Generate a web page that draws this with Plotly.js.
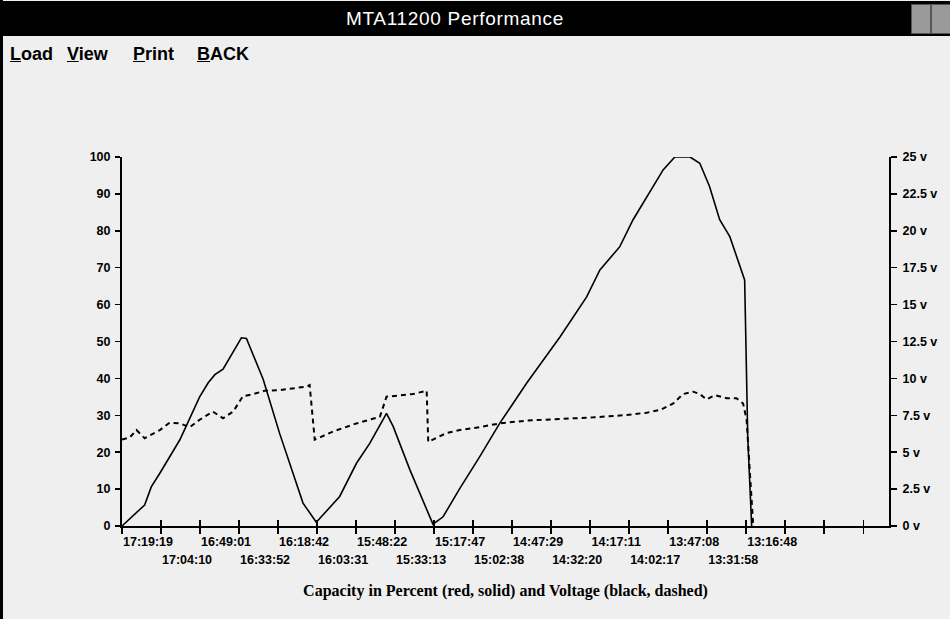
<!DOCTYPE html>
<html>
<head>
<meta charset="utf-8">
<script src="https://cdn.plot.ly/plotly-3.0.1.min.js"></script>
<style>
  html, body { margin:0; padding:0; width:950px; height:619px; overflow:hidden; background:#efefef; }
  #chart { position:absolute; left:0; top:0; width:950px; height:619px; }
  #titlebar { position:absolute; left:0; top:1px; width:950px; height:35px; background:#000; color:#fff;
    font-family:"Liberation Sans", Arial, sans-serif; font-size:19px; letter-spacing:0.7px; line-height:35px; text-align:center; }
  #titlebar span { position:relative; left:-20px; }
  .btn { position:absolute; top:4px; width:18px; height:28px; background:#9a9a9a; border:1px solid #555; }
  #menu { position:absolute; left:0; top:37px; height:34px; width:950px; font-family:"Liberation Sans", Arial, sans-serif;
    font-weight:bold; font-size:18px; line-height:34px; color:#000; }
  #menu span { position:absolute; }
  #menu u { text-decoration:underline; }
  #lborder { position:absolute; left:0; top:0; width:3px; height:619px; background:#000; }
</style>
</head>
<body>
<div id="chart"></div>
<div id="titlebar"><span>MTA11200 Performance</span></div>
<div class="btn" style="left:911px"></div>
<div class="btn" style="left:931px"></div>
<div id="menu">
  <span style="left:10px"><u>L</u>oad</span>
  <span style="left:67px"><u>V</u>iew</span>
  <span style="left:133px"><u>P</u>rint</span>
  <span style="left:197px"><u>B</u>ACK</span>
</div>
<div id="lborder"></div>
<script>
// ---- data (x in tick-interval units, 0 = 17:19:19) ----
const xTickLabels = ['17:19:19','17:04:10','16:49:01','16:33:52','16:18:42','16:03:31','15:48:22','15:33:13','15:17:47','15:02:38','14:47:29','14:32:20','14:17:11','14:02:17','13:47:08','13:31:58','13:16:48','','',''];
const capX = [0,0.58,0.75,0.97,1.48,1.99,2.21,2.38,2.59,3.06,3.19,3.62,4.04,4.38,4.64,4.98,5.58,6.01,6.35,6.78,6.95,7.38,7.97,8.23,8.66,9.17,9.68,10.37,11.23,11.91,12.25,12.76,13.10,13.87,14.17,14.56,14.81,15.06,15.32,15.58,15.83,15.96,16.04,16.14];
const capY = [0,5.7,10.6,14.3,23.3,35,38.8,41,42.5,51,50.8,39.7,25.1,14.3,6.2,1,8,17,22.4,30.5,27,15.2,0.5,2.5,10.2,18.8,27.8,38.7,51.3,62.1,69.4,75.7,83,96.5,100,100,98.3,92,83,78.4,70.3,66.7,24,0];
const voltX = [0,0.2,0.37,0.58,0.97,1.22,1.48,1.74,1.99,2.33,2.59,2.85,3.10,3.32,3.66,4.04,4.73,4.81,4.94,5.41,6.01,6.61,6.78,7.46,7.81,7.85,8.32,8.66,9.17,9.68,10.37,11.23,12.08,12.93,13.45,13.79,14.13,14.38,14.64,14.81,14.98,15.20,15.50,15.75,15.92,16.01,16.09,16.18];
const voltY = [5.85,6.0,6.5,5.95,6.5,7.0,6.95,6.7,7.2,7.75,7.3,7.75,8.8,8.9,9.17,9.2,9.45,9.55,5.85,6.4,6.95,7.4,8.76,8.94,9.17,5.7,6.3,6.5,6.7,6.95,7.14,7.23,7.36,7.52,7.68,7.86,8.3,8.94,9.1,8.94,8.58,8.87,8.65,8.65,8.3,7.2,3.8,0];
const capTicks = [0,10,20,30,40,50,60,70,80,90,100];
const voltTicks = [0,2.5,5,7.5,10,12.5,15,17.5,20,22.5,25];
const voltTickText = ['0 v','2.5 v','5 v','7.5 v','10 v','12.5 v','15 v','17.5 v','20 v','22.5 v','25 v'];
const xTitle = 'Capacity in Percent (red, solid) and Voltage (black, dashed)';

const tickIdx = xTickLabels.map((_, i) => i);
const evenText = xTickLabels.map((t, i) => i % 2 === 0 ? t : '');
const oddText = xTickLabels.map((t, i) => i % 2 === 1 ? t : '');
const xr = [0, 19.66];
const tf = {family:'"Liberation Sans", Arial, sans-serif', size:12.5, color:'#000', weight:'bold'};

const traces = [
  {x:capX, y:capY, mode:'lines', name:'Capacity', line:{color:'#000', width:1.6}, xaxis:'x', yaxis:'y', hoverinfo:'skip'},
  {x:voltX, y:voltY, mode:'lines', name:'Voltage', line:{color:'#000', width:2, dash:'5px,4px'}, xaxis:'x2', yaxis:'y2', hoverinfo:'skip'}
];

const layout = {
  width:950, height:619,
  margin:{l:122, r:61, t:157, b:93},
  paper_bgcolor:'#efefef', plot_bgcolor:'rgba(0,0,0,0)',
  showlegend:false,
  xaxis:{range:xr, tickmode:'array', tickvals:tickIdx, ticktext:evenText, ticks:'outside', ticklen:6, tickwidth:1.5, tickcolor:'#000',
    showline:true, linewidth:2, linecolor:'#000', showgrid:false, zeroline:false, tickfont:tf, ticklabelshift:26, ticklabelstandoff:-3,
    title:{text:xTitle, font:{family:'"Liberation Serif", "Times New Roman", serif', size:16, color:'#000', weight:'bold'}, standoff:37}},
  xaxis2:{range:xr, overlaying:'x', anchor:'y', side:'bottom', tickmode:'array', tickvals:tickIdx, ticktext:oddText, ticks:'inside', ticklen:6, tickwidth:1.5, tickcolor:'#000',
    showline:false, showgrid:false, zeroline:false, tickfont:tf, ticklabelshift:26, ticklabelstandoff:24},
  yaxis:{range:[0,100], tickmode:'array', tickvals:capTicks, ticks:'outside', ticklen:5, tickwidth:1.5, tickcolor:'#000',
    showline:true, linewidth:2, linecolor:'#000', showgrid:false, zeroline:false, tickfont:tf, ticklabelstandoff:2},
  yaxis2:{range:[0,25], overlaying:'y', side:'right', anchor:'x2', tickmode:'array', tickvals:voltTicks, ticktext:voltTickText, ticks:'outside', ticklen:6, tickwidth:1.5, tickcolor:'#000',
    showline:true, linewidth:2, linecolor:'#000', showgrid:false, zeroline:false, tickfont:tf, ticklabelstandoff:3},
  yaxis3:{range:[0,100], overlaying:'y', side:'left', anchor:'x', tickmode:'array', tickvals:capTicks, ticks:'inside', ticklen:5, tickwidth:1.5, tickcolor:'#000',
    showticklabels:false, showline:false, showgrid:false, zeroline:false},
  yaxis4:{range:[0,25], overlaying:'y', side:'right', anchor:'x', tickmode:'array', tickvals:voltTicks, ticks:'inside', ticklen:6, tickwidth:1.5, tickcolor:'#000',
    showticklabels:false, showline:false, showgrid:false, zeroline:false}
};

Plotly.newPlot('chart', traces, layout, {displayModeBar:false, staticPlot:true});
</script>
</body>
</html>
